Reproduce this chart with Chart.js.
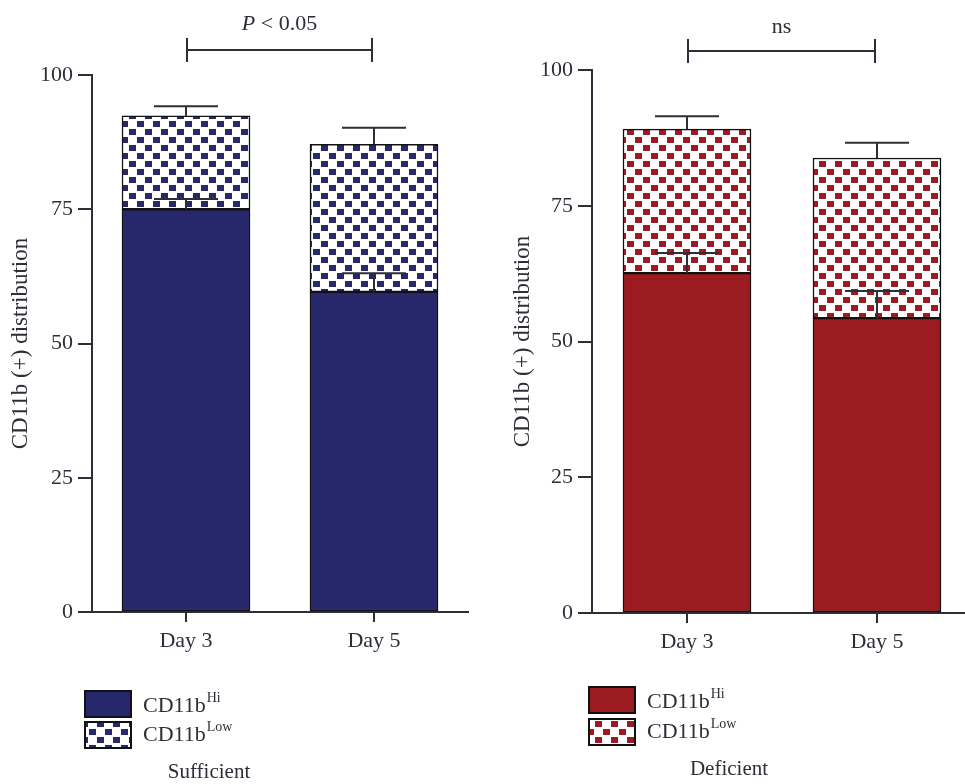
<!DOCTYPE html>
<html>
<head>
<meta charset="utf-8">
<script src="https://cdn.jsdelivr.net/npm/chart.js@4"></script>
<style>
  html, body { margin: 0; padding: 0; background: #fff; overflow: hidden; }
  #wrap { position: relative; width: 965px; height: 784px; overflow: hidden; }
  #left { position: absolute; left: 0; top: 0; }
  #right { position: absolute; left: 482px; top: 0; }
</style>
</head>
<body>
<div id="wrap">
  <canvas id="left" width="482" height="784"></canvas>
  <canvas id="right" width="500" height="784"></canvas>
</div>
<script>
// DATA
const days = ['Day 3', 'Day 5']
const yTicks = [0, 25, 50, 75, 100]

// sufficient
const sufHi = [75.0, 59.6]
const sufLow = [17.4, 27.5]
const sufHiErr = [1.9, 3.5]
const sufTotalErr = [1.8, 3.1]

// deficient
const defHi = [62.6, 54.3]
const defLow = [26.5, 29.5]
const defHiErr = [3.7, 5.0]
const defTotalErr = [2.4, 2.8]

const FONT = "'Liberation Serif', 'Times New Roman', serif"
const INK = '#2e2e38'
const NAVY = '#26286b'
const RED = '#9b1b20'

function checker(ctx, color) {
    const c = document.createElement('canvas')
    c.width = 16
    c.height = 16
    const g = c.getContext('2d')
    g.fillStyle = '#fff'
    g.fillRect(0, 0, 16, 16)
    g.fillStyle = color
    g.fillRect(1, 1, 7, 6)
    g.fillRect(9, 9, 7, 6)
    return ctx.createPattern(c, 'repeat')
}

function errBar(ctx, x, yBase, yCap, half) {
    ctx.beginPath()
    ctx.moveTo(x, yBase)
    ctx.lineTo(x, yCap)
    ctx.moveTo(x - half, yCap)
    ctx.lineTo(x + half, yCap)
    ctx.stroke()
}

function makeChart(id, color, hi, low, hiErr, totalErr, o) {
    const ctx = document.getElementById(id).getContext('2d')
    const pat = checker(ctx, color)

    const extras = {
        id: 'extras',
        afterDatasetsDraw(chart) {
            const c = chart.ctx
            const xs = chart.scales.x, ys = chart.scales.y
            c.save()
            c.strokeStyle = INK
            c.lineWidth = 2
            for (let i = 0; i < days.length; i++) {
                const x = xs.getPixelForValue(i)
                const tot = hi[i] + low[i]
                errBar(c, x, ys.getPixelForValue(hi[i]), ys.getPixelForValue(hi[i] + hiErr[i]), 32)
                errBar(c, x, ys.getPixelForValue(tot), ys.getPixelForValue(tot + totalErr[i]), 32)
            }
            c.restore()
        },
        afterDraw(chart) {
            const c = chart.ctx
            const xs = chart.scales.x
            c.save()
            // bracket
            const x0 = xs.getPixelForValue(0) + 1, x1 = xs.getPixelForValue(1) - 2
            c.strokeStyle = INK
            c.lineWidth = 2
            c.beginPath()
            c.moveTo(x0, o.brY); c.lineTo(x1, o.brY)
            c.moveTo(x0, o.brY - 12); c.lineTo(x0, o.brY + 12)
            c.moveTo(x1, o.brY - 12); c.lineTo(x1, o.brY + 12)
            c.stroke()
            c.fillStyle = INK
            c.textBaseline = 'alphabetic'
            if (o.sig === 'P') {
                c.font = 'italic 22px ' + FONT
                const w1 = c.measureText('P').width
                c.font = '22px ' + FONT
                const w2 = c.measureText(' < 0.05').width
                const sx = (x0 + x1) / 2 - (w1 + w2) / 2
                c.font = 'italic 22px ' + FONT
                c.textAlign = 'left'
                c.fillText('P', sx, o.brY - 20)
                c.font = '22px ' + FONT
                c.fillText(' < 0.05', sx + w1, o.brY - 20)
            } else {
                c.font = '22px ' + FONT
                c.textAlign = 'center'
                c.fillText(o.sig, (x0 + x1) / 2, o.brY - 18)
            }
            // legend
            c.lineWidth = 2
            c.strokeStyle = '#111'
            c.fillStyle = color
            c.fillRect(o.lgX, o.lgY1, 46, 26)
            c.strokeRect(o.lgX, o.lgY1, 46, 26)
            c.fillStyle = pat
            c.fillRect(o.lgX, o.lgY2, 46, 26)
            c.strokeRect(o.lgX, o.lgY2, 46, 26)
            c.fillStyle = INK
            c.textAlign = 'left'
            const rows = [['Hi', o.lgY1 + 21], ['Low', o.lgY2 + 19]]
            for (const [sup, by] of rows) {
                c.font = '22px ' + FONT
                c.fillText('CD11b', o.lgX + 58, by)
                const w = c.measureText('CD11b').width
                c.font = '14px ' + FONT
                c.fillText(sup, o.lgX + 58 + w + 1, by - 10)
            }
            c.font = '21px ' + FONT
            c.textAlign = 'center'
            c.fillText(o.sub, o.subX, o.subY)
            c.restore()
        }
    }

    return new Chart(ctx, {
        type: 'bar',
        data: {
            labels: days,
            datasets: [{
                label: 'CD11b Hi',
                data: hi,
                backgroundColor: color,
                borderColor: '#111',
                borderWidth: 1.5,
                borderSkipped: false,
                barThickness: 128
            }, {
                label: 'CD11b Low',
                data: low,
                backgroundColor: pat,
                borderColor: '#111',
                borderWidth: 1.5,
                borderSkipped: false,
                barThickness: 128
            }]
        },
        options: {
            responsive: false,
            animation: false,
            events: [],
            layout: { padding: { left: 0, top: o.top, right: o.padR, bottom: 0 } },
            plugins: { legend: { display: false }, tooltip: { enabled: false } },
            scales: {
                x: {
                    stacked: true,
                    afterFit: s => { s.height = 784 - o.bottom },
                    grid: { offset: false, drawOnChartArea: false, tickLength: 10, color: INK, lineWidth: 2 },
                    border: { display: true, color: INK, width: 2 },
                    ticks: { color: INK, font: { family: FONT, size: 22 }, padding: 6 }
                },
                y: {
                    stacked: true,
                    min: 0,
                    max: 100,
                    afterFit: s => { s.width = o.axisX },
                    afterBuildTicks: s => { s.ticks = yTicks.map(v => ({ value: v })) },
                    grid: { drawOnChartArea: false, tickLength: 14, color: INK, lineWidth: 2 },
                    border: { display: true, color: INK, width: 2 },
                    ticks: { color: INK, font: { family: FONT, size: 22 }, padding: 5 },
                    title: {
                        display: true,
                        text: 'CD11b (+) distribution',
                        color: INK,
                        font: { family: FONT, size: 23 },
                        padding: { top: o.titlePad, bottom: 0 }
                    }
                }
            }
        },
        plugins: [extras]
    })
}

makeChart('left', NAVY, sufHi, sufLow, sufHiErr, sufTotalErr, {
    axisX: 92, top: 75, bottom: 612, padR: 14, titlePad: 7,
    brY: 50, sig: 'P',
    lgX: 85, lgY1: 691, lgY2: 722,
    sub: 'Sufficient', subX: 209, subY: 778
})

makeChart('right', RED, defHi, defLow, defHiErr, defTotalErr, {
    axisX: 110, top: 70, bottom: 613, padR: 10, titlePad: 27,
    brY: 51, sig: 'ns',
    lgX: 107, lgY1: 687, lgY2: 719,
    sub: 'Deficient', subX: 247, subY: 775
})
</script>
</body>
</html>
